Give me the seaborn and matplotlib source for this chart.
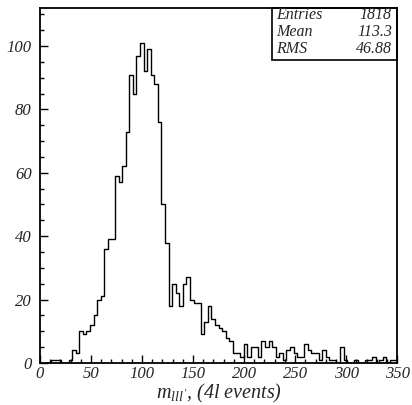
import numpy as np
import pandas as pd
import seaborn as sns
import matplotlib.pyplot as plt
from matplotlib.ticker import MultipleLocator

# bin counts, 100 bins of 3.5 from 0 to 350
counts_low = [0, 0, 0, 1, 1, 1, 0, 0, 1, 4, 3, 10, 9, 10, 12, 15, 20, 21, 36, 39]
counts_peak = [39, 59, 57, 62, 73, 91, 85, 97, 101, 92, 99, 91, 88, 76, 50, 38, 18, 25, 22, 18]
counts_mid = [25, 27, 20, 19, 19, 9, 13, 18, 14, 12, 11, 10, 8, 7, 3, 3, 2, 6, 2, 5]
counts_tail1 = [5, 2, 7, 5, 7, 5, 2, 3, 1, 4, 5, 3, 2, 2, 6, 4, 3, 3, 1, 4]
counts_tail2 = [2, 1, 1, 0, 5, 1, 0, 0, 1, 0, 0, 1, 1, 2, 0, 1, 2, 0, 1, 1]
bin_width = 3.5

stat_names = ['Entries', 'Mean', 'RMS']
stat_values = ['1818', '113.3', '46.88']

counts = counts_low + counts_peak + counts_mid + counts_tail1 + counts_tail2
centers = bin_width * (np.arange(len(counts)) + 0.5)
df = pd.DataFrame({'m': centers, 'n': counts})

sns.set_style('ticks')
plt.rcParams['font.family'] = ['Liberation Serif', 'DejaVu Serif']
plt.rcParams['font.style'] = 'italic'
plt.rcParams['mathtext.fontset'] = 'custom'
plt.rcParams['mathtext.it'] = 'Liberation Serif:italic'
plt.rcParams['mathtext.rm'] = 'Liberation Serif:italic'

fig = plt.figure(figsize=(4.12, 4.05), dpi=100)
ax = fig.add_axes([0.097, 0.104, 0.867, 0.876])

sns.histplot(data=df, x='m', weights='n', binwidth=bin_width, binrange=(0, 350),
             element='step', fill=False, color='black', linewidth=1.0, ax=ax)

ax.set_xlim(0, 350)
ax.set_ylim(0, 112)
ax.xaxis.set_major_locator(MultipleLocator(50))
ax.xaxis.set_minor_locator(MultipleLocator(10))
ax.yaxis.set_major_locator(MultipleLocator(20))
ax.yaxis.set_minor_locator(MultipleLocator(5))
ax.tick_params(which='both', direction='in', top=False, right=False,
               labelsize=12, width=1.0, color='black')
ax.tick_params(which='major', length=6)
ax.tick_params(axis='y', which='major', pad=6)
ax.tick_params(axis='x', which='major', pad=2.5)
ax.tick_params(which='minor', length=3)
for s in ax.spines.values():
    s.set_linewidth(1.3)
    s.set_color('black')
    s.set_visible(True)

ax.set_ylabel('')
ax.set_xlabel(r"$m_{lll'}$, (4l events)", fontsize=14.5)
ax.xaxis.set_label_coords(0.5, -0.055)

# stats box
box_l, box_b = 0.65, 0.855
ax.add_patch(plt.Rectangle((box_l, box_b), 1 - box_l, 1 - box_b, transform=ax.transAxes,
                           fill=False, edgecolor='black', linewidth=1.2, clip_on=False))
for i, (nm, val) in enumerate(zip(stat_names, stat_values)):
    y = 0.98 - i * 0.048
    ax.text(box_l + 0.012, y, nm, transform=ax.transAxes, fontsize=11.5,
            va='center', ha='left')
    ax.text(0.985, y, val, transform=ax.transAxes, fontsize=11.5,
            va='center', ha='right')

fig.savefig('out.png', dpi=100)
